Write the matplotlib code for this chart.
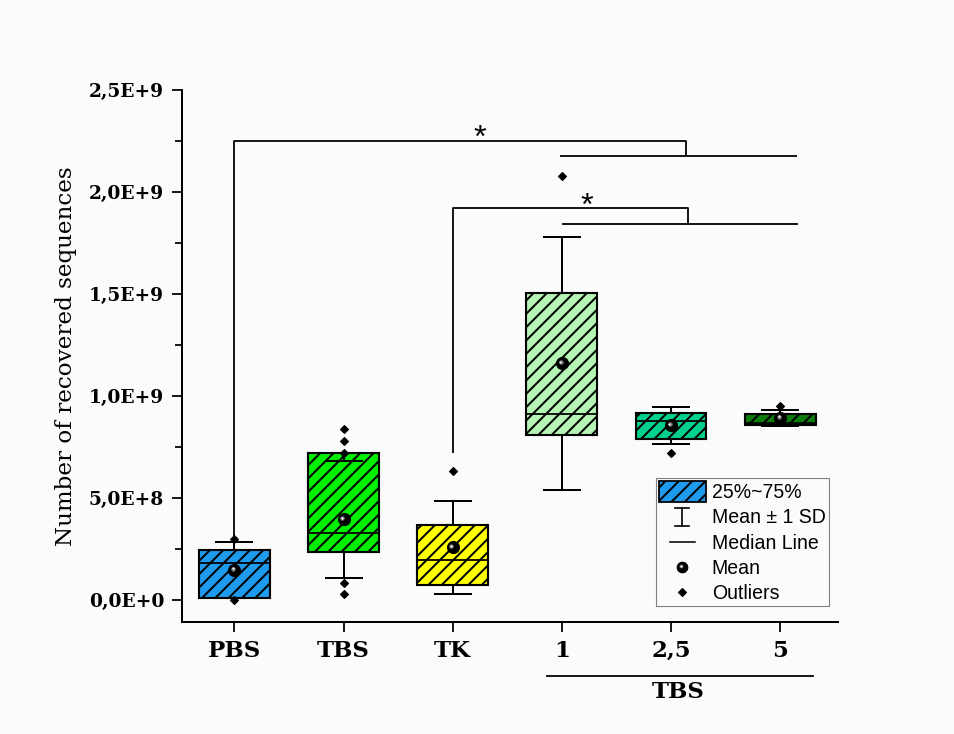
import numpy as np
import matplotlib
matplotlib.use("Agg")
import matplotlib.pyplot as plt
from matplotlib.legend_handler import HandlerBase
from matplotlib.lines import Line2D
from matplotlib.patches import Patch
from matplotlib.transforms import offset_copy, blended_transform_factory
from matplotlib.ticker import FixedLocator, FuncFormatter

# ---------------- data (values in units of 1E+9 sequences) ----------------
categories = ['PBS', 'TBS', 'TK', '1', '2,5', '5']
q1_vals     = [0.008, 0.235, 0.075, 0.809, 0.788, 0.860]
median_vals = [0.183, 0.327, 0.198, 0.912, 0.876, 0.866]
q3_vals     = [0.247, 0.722, 0.369, 1.505, 0.918, 0.914]
mean_vals   = [0.147, 0.396, 0.258, 1.160, 0.856, 0.892]
sd_vals     = [0.136, 0.286, 0.227, 0.619, 0.091, 0.041]
outlier_vals = [
    [0.297, 0.0],
    [0.838, 0.778, 0.722, 0.082, 0.028],
    [0.634],
    [2.078],
    [0.721],
    [0.953],
]
box_colors = ['#1e9bef', '#00ee00', '#ffff00', '#b4f5b4', '#00d08e', '#0b7d0b']
y_ticks = [0.0, 0.5, 1.0, 1.5, 2.0, 2.5]
group_label = 'TBS'
SCALE = 1e9

BG = '#fbfbfb'
DPI = 80
fig = plt.figure(figsize=(954 / DPI, 734 / DPI), dpi=DPI, facecolor=BG)
plt.rcParams['hatch.linewidth'] = 1.8

ax = fig.add_axes([182 / 954, 1 - 622 / 734, (838 - 182) / 954, (622 - 90) / 734])
ax.set_facecolor('none')

positions = np.arange(1, len(categories) + 1)
stats = []
for i in range(len(categories)):
    stats.append(dict(
        med=median_vals[i] * SCALE, q1=q1_vals[i] * SCALE, q3=q3_vals[i] * SCALE,
        whislo=(mean_vals[i] - sd_vals[i]) * SCALE,
        whishi=(mean_vals[i] + sd_vals[i]) * SCALE,
        mean=mean_vals[i] * SCALE,
        fliers=np.array(outlier_vals[i]) * SCALE,
    ))

bp = ax.bxp(stats, positions=positions, widths=0.65, capwidths=0.33,
            patch_artist=True, showmeans=False,
            boxprops=dict(linewidth=1.9, edgecolor='black'),
            whiskerprops=dict(linewidth=1.8, color='black', zorder=4),
            capprops=dict(linewidth=1.8, color='black', zorder=4),
            medianprops=dict(linewidth=1.6, color='black', zorder=4),
            flierprops=dict(marker='D', markerfacecolor='black',
                            markeredgecolor='black', markersize=5.4, zorder=5))
for patch, c in zip(bp['boxes'], box_colors):
    patch.set_facecolor(c)
    patch.set_hatch('//')
    patch.set_zorder(3)

# mean markers drawn as shaded spheres
means = np.array(mean_vals) * SCALE
ax.plot(positions, means, 'o', color='black', ms=10.8, zorder=6, clip_on=False)
ax.plot(positions, means, 'o', color='#7a7a7a', ms=4.0, mec='none', zorder=7,
        transform=offset_copy(ax.transData, fig=fig, x=-1.2, y=1.2, units='points'))
ax.plot(positions, means, 'o', color='white', ms=1.9, mec='none', zorder=8,
        transform=offset_copy(ax.transData, fig=fig, x=-1.4, y=1.4, units='points'))

# axes styling
ax.set_xlim(0.52, 6.53)
ax.set_ylim(-0.108 * SCALE, 2.5 * SCALE)
for s in ['top', 'right']:
    ax.spines[s].set_visible(False)
for s in ['left', 'bottom']:
    ax.spines[s].set_linewidth(1.8)

def fmt(v, pos=None):
    if abs(v) < 1e-9:
        return '0,0E+0'
    e = int(np.floor(np.log10(abs(v)) + 1e-9))
    m = v / 10 ** e
    return f"{m:.1f}".replace('.', ',') + f"E+{e}"

ax.yaxis.set_major_locator(FixedLocator([t * SCALE for t in y_ticks]))
ax.yaxis.set_minor_locator(FixedLocator([(t + 0.25) * SCALE for t in y_ticks[:-1]]))
ax.yaxis.set_major_formatter(FuncFormatter(fmt))
ax.set_xticks(positions)
ax.set_xticklabels(categories)

ax.tick_params(axis='y', which='major', direction='out', length=9, width=1.6, pad=7,
               labelsize=16.8)
ax.tick_params(axis='y', which='minor', direction='out', length=6, width=1.6)
ax.tick_params(axis='x', which='major', direction='out', length=9, width=1.6, pad=7,
               labelsize=20.6)
for lab in ax.get_yticklabels() + ax.get_xticklabels():
    lab.set_fontfamily('DejaVu Serif')
    lab.set_fontweight('bold')

fig.text(66 / 954, 1 - 356 / 734, 'Number of recovered sequences', rotation=90,
         ha='center', va='center', fontsize=20.7, family='DejaVu Serif')

# significance brackets
blk = dict(color='black', lw=1.6, clip_on=False, zorder=2, solid_capstyle='butt')
ax.plot([1, 1, 5.138, 5.138], [0.297 * SCALE, 2.25 * SCALE, 2.25 * SCALE, 2.176 * SCALE], **blk)
ax.plot([3.98, 6.155], [2.176 * SCALE, 2.176 * SCALE], **blk)
ax.plot([3, 3, 5.157, 5.157], [0.72 * SCALE, 1.92 * SCALE, 1.92 * SCALE, 1.843 * SCALE], **blk)
ax.plot([4.0, 6.164], [1.843 * SCALE, 1.843 * SCALE], **blk)
star_tr = offset_copy(ax.transData, fig=fig, x=0, y=-16.0, units='points')
ax.text(3.25, 2.309 * SCALE, '*', ha='center', va='baseline', fontsize=29,
        family='Liberation Sans', transform=star_tr)
ax.text(4.23, 1.973 * SCALE, '*', ha='center', va='baseline', fontsize=29,
        family='Liberation Sans', transform=star_tr)

# group line and label under x axis
btr = blended_transform_factory(ax.transData, ax.transAxes)
ax.plot([3.864, 6.302], [-0.1009, -0.1009], color='black', lw=1.6,
        transform=btr, clip_on=False)
ax.text(5.065, -0.1325, group_label, transform=btr, ha='center', va='center',
        fontsize=20.6, family='DejaVu Serif', fontweight='bold')

# legend with custom handlers
class HandlerSD(HandlerBase):
    def create_artists(self, legend, orig_handle, xd, yd, w, h, fs, trans):
        cx = w / 2 - xd
        y0, y1 = -yd + 0.05 * h, -yd + 0.92 * h
        cw = 0.15 * w
        arts = [Line2D([cx, cx], [y0, y1]),
                Line2D([cx - cw, cx + cw], [y1, y1]),
                Line2D([cx - cw, cx + cw], [y0, y0])]
        for a in arts:
            a.set_color('black'); a.set_linewidth(1.5); a.set_transform(trans)
        return arts

class HandlerMed(HandlerBase):
    def create_artists(self, legend, orig_handle, xd, yd, w, h, fs, trans):
        cx = w / 2 - xd
        cy = h / 2 - yd
        a = Line2D([cx - 0.26 * w, cx + 0.26 * w], [cy, cy], color='black', lw=1.4)
        a.set_transform(trans)
        return [a]

class HandlerMean(HandlerBase):
    def create_artists(self, legend, orig_handle, xd, yd, w, h, fs, trans):
        cx = w / 2 - xd
        cy = h / 2 - yd
        a = Line2D([cx], [cy], marker='o', color='black', ms=9.5, ls='none')
        b = Line2D([cx - 1.1], [cy + 1.1], marker='o', color='#7a7a7a', mec='none', ms=3.4, ls='none')
        c = Line2D([cx - 1.3], [cy + 1.3], marker='o', color='white', mec='none', ms=1.6, ls='none')
        for x in (a, b, c):
            x.set_transform(trans)
        return [a, b, c]

class HandlerOut(HandlerBase):
    def create_artists(self, legend, orig_handle, xd, yd, w, h, fs, trans):
        cx = w / 2 - xd
        cy = h / 2 - yd
        a = Line2D([cx], [cy], marker='D', color='black', ms=5.0, ls='none')
        a.set_transform(trans)
        return [a]

class SDKey: pass
class MedKey: pass
class MeanKey: pass
class OutKey: pass

h_box = Patch(facecolor=box_colors[0], edgecolor='black', hatch='//', linewidth=1.6)
handles = [h_box, SDKey(), MedKey(), MeanKey(), OutKey()]
labels = ['25%~75%', 'Mean \u00b1 1 SD', 'Median Line', 'Mean', 'Outliers']
leg = fig.legend(handles, labels, loc='upper left',
                 bbox_to_anchor=(656 / 954, 1 - 478 / 734), bbox_transform=fig.transFigure,
                 borderaxespad=0, borderpad=0.15, handlelength=2.4, handleheight=1.3,
                 handletextpad=0.3, labelspacing=0.2, fancybox=False,
                 prop=dict(family='Liberation Sans', size=17.6),
                 handler_map={SDKey: HandlerSD(), MedKey: HandlerMed(),
                              MeanKey: HandlerMean(), OutKey: HandlerOut()})
leg.get_frame().set_edgecolor('#808080')
leg.get_frame().set_linewidth(1.0)
leg.get_frame().set_facecolor(BG)
leg.get_frame().set_alpha(1)

fig.savefig('out.png', dpi=DPI, facecolor=BG)
